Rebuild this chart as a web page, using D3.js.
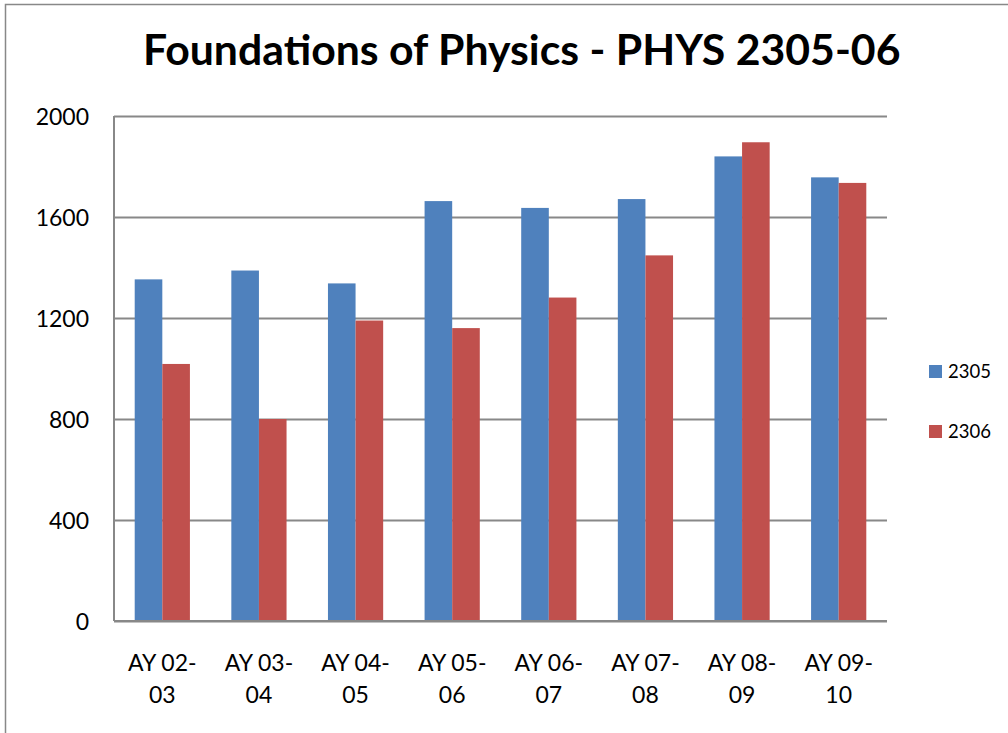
<!DOCTYPE html>
<html><head><meta charset="utf-8">
<script src="https://cdn.jsdelivr.net/npm/d3@7"></script>
<style>body{margin:0;background:#fff;overflow:hidden} svg{display:block}</style>
</head><body><svg id="c" width="1008" height="733"></svg>
<script>
const title = "Foundations of Physics - PHYS 2305-06";
const categories = ["AY 02-03","AY 03-04","AY 04-05","AY 05-06","AY 06-07","AY 07-08","AY 08-09","AY 09-10"];
const seriesNames = ["2305","2306"];
const values2305 = [1353,1388,1337,1663,1636,1671,1840,1757];
const values2306 = [1018,800,1190,1160,1281,1448,1896,1735];
const yTicks = [0,400,800,1200,1600,2000];
const colors = ["#4F81BD","#C0504D"];

const series = [values2305, values2306];
const svg = d3.select("#c");
const font = "Lato, 'Open Sans', sans-serif";
const M = {left:114, right:887, top:116, bottom:621};

// chart border
svg.append("rect").attr("x",5.5).attr("y",4.5).attr("width",1100).attr("height",800)
  .attr("fill","#fff").attr("stroke","#888").attr("stroke-width",1.5);

const x = d3.scaleBand().domain(categories).range([M.left,M.right])
  .paddingInner(1.5/3.5).paddingOuter(0.75/3.5);
const xs = d3.scaleBand().domain(seriesNames).range([0,x.bandwidth()]);
const y = d3.scaleLinear().domain([0,2000]).range([M.bottom,M.top]);

// gridlines
const yAxis = d3.axisLeft(y).tickValues(yTicks).tickSize(-(M.right-M.left)).tickPadding(25).tickFormat(d3.format("d"));
const gy = svg.append("g").attr("transform",`translate(${M.left},0)`).call(yAxis);
gy.select(".domain").remove();
gy.selectAll(".tick line").attr("stroke","#888").attr("stroke-width",2);
gy.selectAll(".tick text").attr("font-family",font).attr("font-size",23).attr("fill","#000").attr("dy","0.36em");

// bars
series.forEach((vals,si)=>{
  svg.append("g").selectAll("rect").data(vals).join("rect")
    .attr("x",(d,i)=>x(categories[i])+xs(seriesNames[si]))
    .attr("y",d=>y(d))
    .attr("width",xs.bandwidth())
    .attr("height",d=>y(0)-y(d))
    .attr("fill",colors[si]);
});

// axis lines
svg.append("line").attr("x1",M.left).attr("x2",M.left).attr("y1",M.top).attr("y2",M.bottom).attr("stroke","#888").attr("stroke-width",2);
const xAxis = d3.axisBottom(x).tickSize(0).tickFormat("");
const gx = svg.append("g").attr("transform",`translate(0,${M.bottom})`).call(xAxis);
gx.select(".domain").attr("stroke","#888").attr("stroke-width",2).attr("d",`M${M.left},0H${M.right}`);
gx.selectAll(".tick").each(function(d){
  const parts = d.match(/^(.*-)(.*)$/);
  const t = d3.select(this).append("text").attr("font-family",font).attr("font-size",23)
    .attr("fill","#000").attr("text-anchor","middle");
  t.append("tspan").attr("x",0).attr("y",50).text(parts[1]);
  t.append("tspan").attr("x",0).attr("y",82).text(parts[2]);
});

// legend
const lg = svg.append("g").attr("transform","translate(929,365)");
seriesNames.forEach((n,i)=>{
  lg.append("rect").attr("x",0).attr("y",i*60).attr("width",13).attr("height",13).attr("fill",colors[i]);
  lg.append("text").attr("x",19).attr("y",i*60+13).attr("font-family",font).attr("font-size",18.5).attr("fill","#000").text(n);
});

// title
const tt = svg.append("text").attr("x",521.7).attr("y",64.5).attr("text-anchor","middle")
  .attr("font-family",font).attr("font-weight","bold").attr("font-size",42).attr("fill","#000").text(title);
const w = tt.node().getComputedTextLength();
tt.attr("font-size", 42*758/w);
</script></body></html>
